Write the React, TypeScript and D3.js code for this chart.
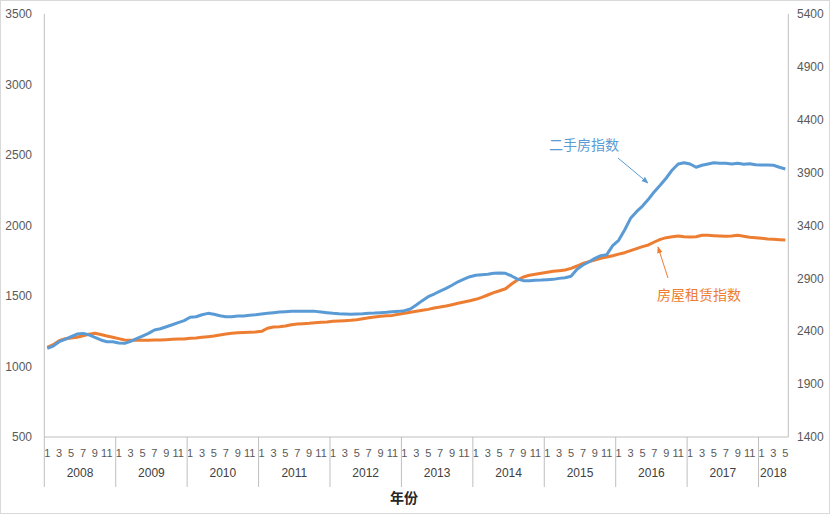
import React from "react";
import * as d3 from "d3";

const years = [2008, 2009, 2010, 2011, 2012, 2013, 2014, 2015, 2016, 2017, 2018];
const monthsInLastYear = 5;
const leftTicks = [500, 1000, 1500, 2000, 2500, 3000, 3500];
const rightTicks = [1400, 1900, 2400, 2900, 3400, 3900, 4400, 4900, 5400];

// 二手房指数 (left axis), Jan 2008 – May 2018
const secondHand = [
  1129, 1145, 1176, 1193, 1211, 1230, 1235, 1225, 1207, 1188, 1176, 1176,
  1167, 1164, 1179, 1197, 1216, 1235, 1259, 1268, 1282, 1296, 1311, 1325,
  1349, 1353, 1367, 1377, 1370, 1360, 1353, 1353, 1358, 1358, 1363, 1367,
  1372, 1377, 1382, 1387, 1389, 1391, 1391, 1391, 1391, 1391, 1387, 1382,
  1377, 1374, 1372, 1370, 1372, 1374, 1377, 1379, 1382, 1384, 1389, 1391,
  1396, 1408, 1436, 1467, 1495, 1514, 1535, 1554, 1576, 1601, 1620, 1637,
  1647, 1651, 1654, 1661, 1663, 1661, 1642, 1620, 1609, 1609, 1611, 1613,
  1616, 1618, 1625, 1630, 1640, 1689, 1720, 1741, 1767, 1786, 1793, 1857,
  1895, 1968, 2051, 2098, 2138, 2186, 2240, 2287, 2337, 2394, 2436, 2445,
  2436, 2413, 2427, 2436, 2445, 2441, 2441, 2436, 2441, 2434, 2438, 2431,
  2429, 2429, 2427, 2413, 2401,
];

// 房屋租赁指数 (right axis), Jan 2008 – May 2018
const rental = [
  2248, 2273, 2311, 2330, 2336, 2343, 2358, 2371, 2381, 2369, 2355, 2343,
  2330, 2317, 2314, 2314, 2314, 2314, 2317, 2317, 2320, 2324, 2327, 2327,
  2333, 2336, 2343, 2349, 2355, 2365, 2374, 2380, 2385, 2388, 2390, 2393,
  2399, 2428, 2440, 2443, 2450, 2462, 2468, 2471, 2475, 2481, 2484, 2487,
  2494, 2497, 2500, 2503, 2509, 2519, 2528, 2535, 2541, 2547, 2550, 2560,
  2570, 2579, 2589, 2598, 2607, 2620, 2629, 2639, 2651, 2664, 2677, 2689,
  2702, 2721, 2743, 2765, 2783, 2802, 2847, 2885, 2913, 2929, 2938, 2948,
  2957, 2967, 2973, 2979, 2995, 3017, 3042, 3058, 3074, 3090, 3102, 3114,
  3129, 3143, 3162, 3181, 3200, 3216, 3244, 3269, 3285, 3294, 3301, 3294,
  3291, 3294, 3307, 3307, 3304, 3301, 3298, 3301, 3307, 3298, 3288, 3285,
  3279, 3272, 3269, 3266, 3263,
];

const monthLabels = ["1", "3", "5", "7", "9", "11"];

const W = 830;
const H = 514;
const plotLeft = 44.3;
const plotRight = 788.3;
const plotTop = 14;
const plotBottom = 437;

const BLUE = "#5B9BD5";
const ORANGE = "#ED7D31";
const AXIS = "#BFBFBF";
const TEXT = "#595959";
const NUM_FONT = "'Liberation Sans', 'Noto Sans', sans-serif";
const CJK_FONT = "'Noto Sans CJK SC', sans-serif";

export default function App() {
  const points = years.flatMap((y, yi) => {
    const n = yi === years.length - 1 ? monthsInLastYear : 12;
    return d3.range(n).map((m) => ({ year: y, month: m + 1 }));
  });
  const idx = points.map((_, i) => i);

  const x = d3.scaleBand<number>().domain(idx).range([plotLeft, plotRight]).padding(0);
  const cx = (i: number) => (x(i) as number) + x.bandwidth() / 2;
  const yL = d3.scaleLinear().domain([500, 3500]).range([plotBottom, plotTop]);
  const yR = d3.scaleLinear().domain([1400, 5400]).range([plotBottom, plotTop]);

  const lineL = d3.line<number>().x((_, i) => cx(i)).y((d) => yL(d));
  const lineR = d3.line<number>().x((_, i) => cx(i)).y((d) => yR(d));

  // year boundaries
  const yearStarts: { year: number; start: number; end: number }[] = [];
  let acc = 0;
  years.forEach((y, yi) => {
    const n = yi === years.length - 1 ? monthsInLastYear : 12;
    yearStarts.push({ year: y, start: acc, end: acc + n - 1 });
    acc += n;
  });

  return (
    <svg
      width={W}
      height={H}
      style={{ position: "absolute", left: 0, top: 0, background: "#fff" }}
    >
      <defs>
        <marker id="arrB" viewBox="0 0 10 10" refX="9" refY="5" markerWidth="7" markerHeight="7" orient="auto">
          <path d="M0,1 L10,5 L0,9 z" fill={BLUE} />
        </marker>
        <marker id="arrO" viewBox="0 0 10 10" refX="9" refY="5" markerWidth="7" markerHeight="7" orient="auto">
          <path d="M0,1 L10,5 L0,9 z" fill={ORANGE} />
        </marker>
      </defs>
      <rect x={0.5} y={0.5} width={W - 1} height={H - 1} fill="#fff" stroke="#D9D9D9" />

      {/* axes lines */}
      <line x1={plotLeft} x2={plotLeft} y1={plotTop} y2={plotBottom} stroke={AXIS} />
      <line x1={plotRight} x2={plotRight} y1={plotTop} y2={plotBottom} stroke={AXIS} />
      <line x1={plotLeft} x2={plotRight} y1={plotBottom} y2={plotBottom} stroke={AXIS} />

      {/* left ticks */}
      {leftTicks.map((t) => (
        <text key={"l" + t} x={32} y={yL(t)} dy="0.35em" textAnchor="end" fontSize={12} fill={TEXT} fontFamily={NUM_FONT}>
          {t}
        </text>
      ))}
      {rightTicks.map((t) => (
        <text key={"r" + t} x={797} y={yR(t)} dy="0.35em" textAnchor="start" fontSize={12} fill={TEXT} fontFamily={NUM_FONT}>
          {t}
        </text>
      ))}

      {/* x axis: month labels */}
      {points.map((p, i) =>
        monthLabels.includes(String(p.month)) ? (
          <text key={"m" + i} x={cx(i)} y={457} textAnchor="middle" fontSize={11} fill={TEXT} fontFamily={NUM_FONT}>
            {p.month}
          </text>
        ) : null
      )}
      {/* year separators and labels */}
      {yearStarts.map((ys) => (
        <g key={"y" + ys.year}>
          <line x1={x(ys.start) as number} x2={x(ys.start) as number} y1={plotBottom} y2={487} stroke={AXIS} />
          <text
            x={((x(ys.start) as number) + (x(ys.end) as number) + x.bandwidth()) / 2}
            y={477}
            textAnchor="middle"
            fontSize={12}
            fill="#404040"
            fontFamily={NUM_FONT}
          >
            {ys.year}
          </text>
        </g>
      ))}
      <text x={404} y={503} textAnchor="middle" fontSize={14} fontWeight="bold" fill="#262626" fontFamily={CJK_FONT}>
        年份
      </text>

      {/* series */}
      <path d={lineR(rental) || ""} fill="none" stroke={ORANGE} strokeWidth={3} strokeLinejoin="round" />
      <path d={lineL(secondHand) || ""} fill="none" stroke={BLUE} strokeWidth={3} strokeLinejoin="round" />

      {/* annotations */}
      <text x={584} y={150} textAnchor="middle" fontSize={14} fill={BLUE} fontFamily={CJK_FONT}>
        二手房指数
      </text>
      <line x1={618} y1={158} x2={648} y2={183} stroke={BLUE} strokeWidth={1} markerEnd="url(#arrB)" />
      <text x={699} y={300} textAnchor="middle" fontSize={14} fill={ORANGE} fontFamily={CJK_FONT}>
        房屋租赁指数
      </text>
      <line x1={668} y1={278} x2={658} y2={247} stroke={ORANGE} strokeWidth={1} markerEnd="url(#arrO)" />
    </svg>
  );
}
